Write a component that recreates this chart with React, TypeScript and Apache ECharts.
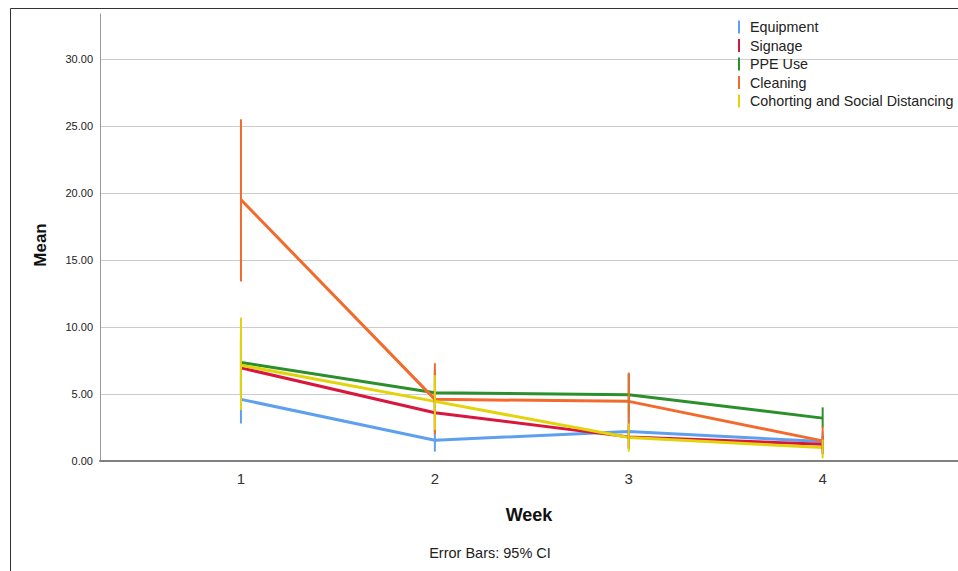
import React, { useEffect, useRef } from "react";
import * as echarts from "echarts";

const weeks = [1, 2, 3, 4];
const seriesNames = ["Equipment", "Signage", "PPE Use", "Cleaning", "Cohorting and Social Distancing"];
const seriesColors = ["#5fa0ee", "#d8163e", "#2b8f2b", "#f26b2d", "#e2d40c"];

const equipmentMean = [4.6, 1.55, 2.2, 1.45];
const equipmentLow = [2.8, 0.7, 1.0, 0.6];
const equipmentHigh = [6.3, 2.3, 3.4, 2.2];

const signageMean = [6.95, 3.6, 1.8, 1.25];
const signageLow = [5.0, 2.2, 0.9, 0.5];
const signageHigh = [9.0, 5.0, 2.7, 1.9];

const ppeMean = [7.35, 5.1, 4.95, 3.2];
const ppeLow = [5.0, 3.4, 3.4, 2.5];
const ppeHigh = [9.7, 6.8, 6.5, 4.0];

const cleaningMean = [19.5, 4.6, 4.45, 1.5];
const cleaningLow = [13.4, 2.0, 2.3, 0.8];
const cleaningHigh = [25.5, 7.3, 6.6, 2.6];

const cohortingMean = [7.15, 4.45, 1.75, 1.0];
const cohortingLow = [3.8, 2.3, 0.7, 0.2];
const cohortingHigh = [10.7, 6.4, 2.8, 1.6];

const yTicks = [0, 5, 10, 15, 20, 25, 30];

const allMeans = [equipmentMean, signageMean, ppeMean, cleaningMean, cohortingMean];
const allLows = [equipmentLow, signageLow, ppeLow, cleaningLow, cohortingLow];
const allHighs = [equipmentHigh, signageHigh, ppeHigh, cleaningHigh, cohortingHigh];

export default function App() {
  const ref = useRef<HTMLDivElement>(null);
  useEffect(() => {
    if (!ref.current) return;
    const chart = echarts.init(ref.current, undefined, { renderer: "svg" });
    const font = "'Liberation Sans', Arial, sans-serif";
    const lineSeries = seriesNames.map((name, i) => ({
      name,
      type: "line",
      data: weeks.map((w, k) => [w, allMeans[i][k]]),
      symbol: "none",
      lineStyle: { color: seriesColors[i], width: 3 },
      itemStyle: { color: seriesColors[i] },
      z: 2,
    }));
    const errSeries = seriesNames.map((name, i) => ({
      name,
      type: "custom",
      data: weeks.map((w, k) => [w, allLows[i][k], allHighs[i][k]]),
      encode: { x: 0, y: [1, 2] },
      z: 3 + i,
      renderItem: (params: any, api: any) => {
        const x = api.value(0);
        const p1 = api.coord([x, api.value(1)]);
        const p2 = api.coord([x, api.value(2)]);
        return {
          type: "line",
          shape: { x1: p1[0], y1: p1[1], x2: p2[0], y2: p2[1] },
          style: { stroke: seriesColors[i], lineWidth: 2 },
        };
      },
    }));
    chart.setOption({
      animation: false,
      backgroundColor: "#ffffff",
      textStyle: { fontFamily: font },
      grid: { left: 100, top: 14, right: 0, bottom: 110 },
      legend: {
        data: seriesNames,
        orient: "vertical",
        left: 738,
        top: 20,
        padding: 0,
        icon: "rect",
        itemWidth: 2,
        itemHeight: 13,
        itemGap: 4.5,
        selectedMode: false,
        textStyle: { fontSize: 14.3, color: "#222", fontFamily: font, padding: [0, 0, 0, 5] },
      },
      xAxis: {
        type: "value",
        min: 0.273,
        max: 4.698,
        name: "Week",
        nameLocation: "middle",
        nameGap: 45,
        nameTextStyle: { fontSize: 18, fontWeight: "bold", color: "#111", fontFamily: font },
        axisLine: { show: true, lineStyle: { color: "#808080", width: 2 } },
        axisTick: { show: false },
        splitLine: { show: false },
        axisLabel: {
          fontSize: 15,
          color: "#333",
          margin: 10,
          showMinLabel: false,
          showMaxLabel: false,
          formatter: (v: number) => (weeks.includes(v) ? String(v) : ""),
        },
      },
      yAxis: {
        type: "value",
        min: 0,
        max: 33.36,
        interval: 5,
        axisLine: { show: true, lineStyle: { color: "#999", width: 1 } },
        axisTick: { show: false },
        splitLine: { show: true, showMaxLine: false, showMinLine: false, lineStyle: { color: "#cccccc", width: 1 } },
        axisLabel: {
          fontSize: 11,
          color: "#222",
          margin: 7,
          showMaxLabel: false,
          formatter: (v: number) => (yTicks.includes(v) ? v.toFixed(2) : ""),
        },
      },
      graphic: [
        {
          type: "rect",
          shape: { x: 10.5, y: 8.5, width: 1000, height: 700 },
          style: { fill: "none", stroke: "#333", lineWidth: 1 },
          silent: true,
        },
        {
          type: "text",
          x: 40,
          y: 245,
          rotation: Math.PI / 2,
          style: {
            text: "Mean",
            fontSize: 17,
            fontWeight: "bold",
            fill: "#111",
            fontFamily: font,
            textAlign: "center",
            textVerticalAlign: "middle",
          },
        },
        {
          type: "text",
          x: 490,
          y: 553,
          style: {
            text: "Error Bars: 95% CI",
            fontSize: 14.5,
            fill: "#222",
            fontFamily: font,
            textAlign: "center",
            textVerticalAlign: "middle",
          },
        },
      ],
      series: [...lineSeries, ...errSeries],
    });
    return () => chart.dispose();
  }, []);
  return (
    <div
      ref={ref}
      style={{ position: "fixed", left: 0, top: 0, width: 958, height: 571 }}
    />
  );
}
